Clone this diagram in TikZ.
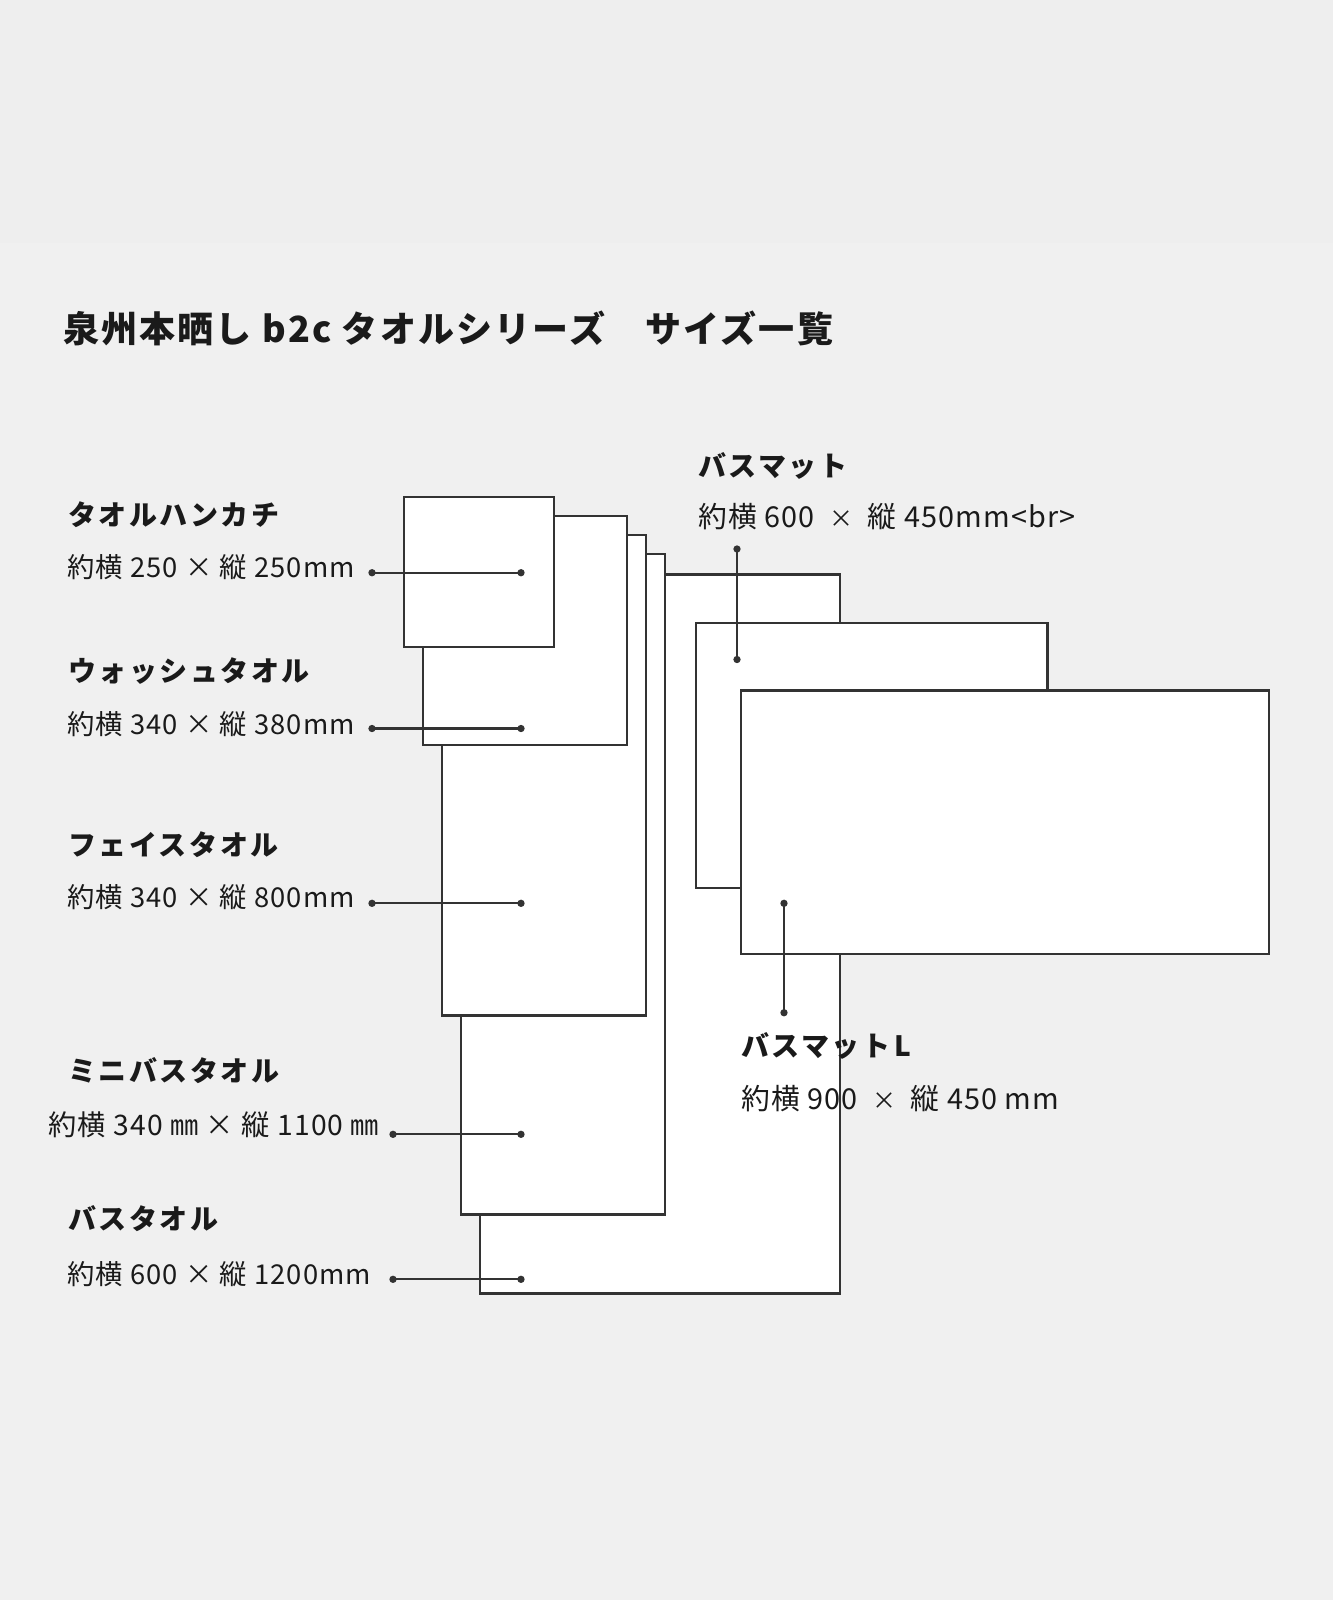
\documentclass[tikz,border=0pt]{standalone}
\usepackage{fontspec}
\newfontfamily\jp{Noto Sans CJK JP}
\newfontfamily\jpttl[LetterSpace=6]{Noto Sans CJK JP}
\newfontfamily\jpnm[LetterSpace=9]{Noto Sans CJK JP}
\newfontfamily\jpsz[LetterSpace=4]{Noto Sans CJK JP}
\definecolor{bg}{HTML}{F0F0F0}
\definecolor{bgtop}{HTML}{EEEEEE}
\definecolor{ink}{HTML}{333333}
\definecolor{txt}{HTML}{1A1A1A}
\newcommand{\tms}{\hspace{0.5em}{\fontsize{18pt}{20pt}\selectfont ×}\hspace{0.5em}}
\begin{document}
\begin{tikzpicture}[x=0.75pt,y=-0.75pt,
  towel/.style={draw=ink,line width=1.6pt,fill=white},
  lead/.style={draw=ink,line width=1.6pt},
  dotn/.style={circle,fill=ink,inner sep=0pt,minimum size=5.5pt},
  ttl/.style={anchor=west,inner sep=0pt,text=txt,font=\jpttl\bfseries\fontsize{27pt}{32pt}\selectfont},
  nm/.style={anchor=west,inner sep=0pt,text=txt,font=\jpnm\bfseries\fontsize{21pt}{25pt}\selectfont},
  sz/.style={anchor=west,inner sep=0pt,text=txt,font=\jpsz\fontsize{20.5pt}{25pt}\selectfont},
  szr/.style={sz,font=\jpsz\fontsize{21.6pt}{26pt}\selectfont}]
\fill[bg] (0,0) rectangle (1333,1600);
\fill[bgtop] (0,0) rectangle (1333,243);
\useasboundingbox (0,0) rectangle (1333,1600);
% title
\node[ttl] (title) at (63,328) {泉州本晒し b2c タオルシリーズ　サイズ一覧};
% towels (back to front)
\path[towel] (480,574.5) rectangle (840,1293.5);
\path[towel] (461,554) rectangle (665,1214.5);
\path[towel] (442,535) rectangle (646,1015.5);
\path[towel] (423,516) rectangle (627,745);
\path[towel] (404,497) rectangle (554,647);
\path[towel] (696,623) rectangle (1047.5,888);
\path[towel] (741,690.5) rectangle (1269,954);
% labels
\node[nm] (n1) at (68,515) {タオルハンカチ};
\node[sz] (s1) at (67,567.5) {約横 250 × 縦 250mm};
\node[nm] (n2) at (68,671.5) {ウォッシュタオル};
\node[sz] (s2) at (67,724.5) {約横 340 × 縦 380mm};
\node[nm] (n3) at (68,845) {フェイスタオル};
\node[sz] (s3) at (67,897) {約横 340 × 縦 800mm};
\node[nm] (n4) at (68,1071) {ミニバスタオル};
\node[sz,font=\jpsz\fontsize{21.2pt}{25pt}\selectfont] (s4) at (48,1125) {約横 340 ㎜ × 縦 1100 ㎜};
\node[nm] (n5) at (68,1219) {バスタオル};
\node[sz] (s5) at (67,1274) {約横 600 × 縦 1200mm};
\node[nm] (n6) at (698,466) {バスマット};
\node[szr] (s6) at (698,516.5) {約横 600\tms 縦 450mm<br>};
\node[nm] (n7) at (741,1046) {バスマット\hspace{3pt}L};
\node[szr] (s7) at (741,1099) {約横 900\tms 縦 450 mm};
% leader dots
\node[dotn] (a1) at (372,572.7) {};
\node[dotn] (b1) at (521,572.7) {};
\node[dotn] (a2) at (372,728.5) {};
\node[dotn] (b2) at (521,728.5) {};
\node[dotn] (a3) at (372,903.3) {};
\node[dotn] (b3) at (521,903.3) {};
\node[dotn] (a4) at (393,1134.3) {};
\node[dotn] (b4) at (521,1134.3) {};
\node[dotn] (a5) at (393,1279.3) {};
\node[dotn] (b5) at (521,1279.3) {};
\node[dotn] (a6) at (737,549) {};
\node[dotn] (b6) at (737,659.5) {};
\node[dotn] (a7) at (784,903.3) {};
\node[dotn] (b7) at (784,1012.7) {};
\foreach \i in {1,...,7}{\draw[lead] (a\i.center) -- (b\i.center);}
\end{tikzpicture}
\end{document}
